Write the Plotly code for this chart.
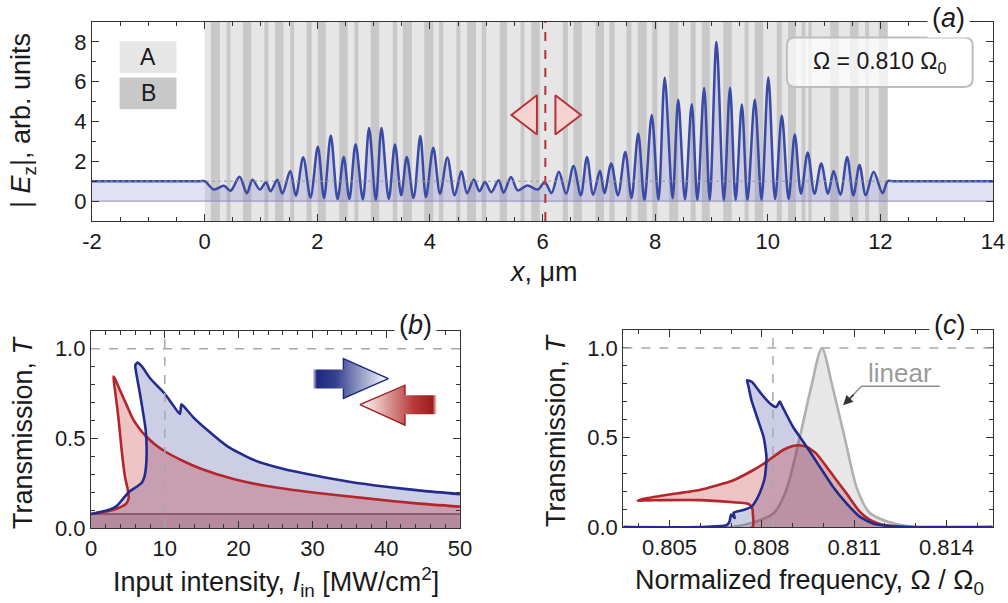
import plotly.graph_objects as go

FONT = "Liberation Sans, Arial, sans-serif"
BLUE = "#232c8c"
RED = "#b3262c"

# ---------------- (a) field profile |E_z|(x): maxima / minima
field_x = [-2.0, -0.1, 0.0, 0.165, 0.34, 0.46, 0.62, 0.75, 0.85, 0.98, 1.09, 1.17, 1.29, 1.38,
           1.52, 1.62, 1.75, 1.88, 2.01, 2.12, 2.24, 2.36, 2.47, 2.57, 2.68, 2.81, 2.92, 3.04,
           3.14, 3.27, 3.38, 3.49, 3.59, 3.71, 3.83, 3.93, 4.06, 4.18, 4.31, 4.44, 4.56, 4.66,
           4.78, 4.88, 4.98, 5.09, 5.22, 5.31, 5.44, 5.56, 5.73, 5.92, 6.04, 6.16, 6.29, 6.42,
           6.55, 6.68, 6.79, 6.90, 7.02, 7.10, 7.22, 7.34, 7.47, 7.58, 7.70, 7.81, 7.94, 8.06,
           8.17, 8.31, 8.41, 8.53, 8.65, 8.75, 8.87, 8.97, 9.09, 9.22, 9.33, 9.43, 9.54, 9.64,
           9.77, 9.89, 10.01, 10.13, 10.25, 10.37, 10.48, 10.59, 10.71, 10.83, 10.95, 11.07,
           11.17, 11.29, 11.41, 11.52, 11.63, 11.74, 11.88, 12.04, 12.13, 12.25, 14.0]
field_y = [1.0, 1.0, 1.0, 0.58, 0.77, 0.52, 1.23, 0.40, 1.07, 0.58, 0.95, 0.49, 1.07, 0.38,
           1.51, 0.27, 2.20, 0.18, 2.73, 0.15, 3.30, 0.10, 2.22, 0.10, 2.86, 0.08, 3.67, 0.05,
           3.67, 0.10, 2.85, 0.29, 2.22, 0.15, 3.27, 0.20, 2.68, 0.37, 2.19, 0.29, 1.50, 0.40,
           1.08, 0.50, 0.96, 0.45, 1.05, 0.42, 1.21, 0.54, 0.79, 0.58, 0.96, 0.40, 1.47, 0.37,
           1.77, 0.29, 2.22, 0.32, 1.52, 0.40, 1.89, 0.29, 2.47, 0.15, 3.40, 0.05, 4.33, 0.05,
           6.20, 0.15, 5.09, 0.08, 4.87, 0.05, 5.68, 0.05, 8.00, 0.02, 5.70, 0.05, 4.85, 0.05,
           5.09, 0.05, 6.21, 0.10, 4.30, 0.10, 3.35, 0.37, 2.44, 0.37, 1.89, 0.37,
           1.51, 0.32, 2.22, 0.29, 1.82, 0.29, 1.47, 0.40, 1.0, 1.0, 1.0]

# layer structure: A fills 0..struct_len, B layers between these edges
struct_len = 12.13
layer_B_lo = [0.11, 0.39, 0.68, 1.06, 1.25, 1.52, 1.81, 2.01, 2.39, 2.66, 2.95, 3.34, 3.52, 3.90,
              4.16, 4.47, 4.66, 4.92, 5.24, 5.61, 5.80, 6.36, 6.55, 6.94, 7.19, 7.49, 7.69, 7.95,
              8.25, 8.63, 8.83, 9.21, 9.59, 9.77, 10.16, 10.36, 10.60, 10.72, 11.11, 11.46, 11.73, 11.97]
layer_B_hi = [0.27, 0.46, 0.83, 1.13, 1.40, 1.59, 1.90, 2.15, 2.54, 2.73, 3.10, 3.42, 3.68, 4.06,
              4.24, 4.54, 4.82, 5.00, 5.37, 5.68, 5.95, 6.45, 6.70, 7.09, 7.28, 7.58, 7.85, 8.04,
              8.41, 8.72, 8.97, 9.36, 9.66, 9.92, 10.25, 10.50, 10.67, 10.78, 11.26, 11.61, 11.80, 12.13]
probe_x = 6.05
x_ticks_a = [-2, 0, 2, 4, 6, 8, 10, 12, 14]
x_labels_a = ["-2", "0", "2", "4", "6", "8", "10", "12", "14"]

# ---------------- (b) transmission vs input intensity
fwd_I = [0, 2.12, 3.48, 4.38, 5.29, 6.19, 6.87, 7.23, 7.45, 7.54, 7.41, 7.0, 6.55, 6.1, 6.0, 6.28,
         6.87, 8.0, 9.97, 11.2, 12.05, 12.25, 12.7, 13.8, 15.8, 18.5, 22.0, 26.0, 30.0, 35.0,
         40.0, 45.0, 50.0]
fwd_T = [0.078, 0.097, 0.123, 0.165, 0.206, 0.23, 0.252, 0.285, 0.34, 0.434, 0.545, 0.657, 0.768,
         0.87, 0.907, 0.922, 0.902, 0.835, 0.75, 0.68, 0.635, 0.69, 0.672, 0.62, 0.545, 0.455,
         0.38, 0.33, 0.295, 0.258, 0.23, 0.207, 0.189]
bwd_I = [0, 2.57, 3.93, 4.74, 5.1, 4.95, 4.6, 4.15, 3.70, 3.25, 3.03, 3.2, 3.93, 4.83, 5.65, 6.55,
         7.42, 8.77, 10.1, 12.4, 14.8, 19.3, 23.8, 30.1, 37.4, 44.1, 50.0]
bwd_T = [0.078, 0.096, 0.115, 0.134, 0.165, 0.22, 0.286, 0.434, 0.62, 0.768, 0.845, 0.835, 0.768,
         0.685, 0.61, 0.555, 0.513, 0.463, 0.425, 0.375, 0.332, 0.273, 0.234, 0.198, 0.165,
         0.137, 0.119]
lin_T_b = 0.078
I_mark = 10

# ---------------- (c) transmission vs normalized frequency
lin_W = [0.8035, 0.8070, 0.8078, 0.8084, 0.8088, 0.80923, 0.8096, 0.80995, 0.8103, 0.81069,
         0.8111, 0.8115, 0.8121, 0.8130, 0.8155]
lin_T = [0.0, 0.0, 0.03, 0.08, 0.21, 0.5, 0.78, 1.0, 0.78, 0.5, 0.21, 0.08, 0.03, 0.0, 0.0]
fwd_W = [0.8035, 0.8060, 0.80685, 0.80695, 0.80700, 0.80712, 0.80708, 0.80740, 0.80766, 0.80785,
         0.80800, 0.80810, 0.80815, 0.80806, 0.80785, 0.80766, 0.80756, 0.80752, 0.80768, 0.80800,
         0.80830, 0.80847, 0.80858, 0.80869, 0.80901, 0.80945, 0.80988, 0.81031, 0.81075, 0.81118,
         0.81161, 0.81248, 0.8155]
fwd_Tc = [0.0, 0.0, 0.01, 0.03, 0.07, 0.05, 0.08, 0.095, 0.113, 0.16, 0.22, 0.28, 0.39, 0.50, 0.61,
          0.71, 0.79, 0.82, 0.81, 0.74, 0.685, 0.67, 0.70, 0.665, 0.56, 0.45, 0.337, 0.225, 0.132,
          0.058, 0.02, 0.0, 0.0]
bwd_W = [0.8035, 0.8077, 0.80771, 0.80768, 0.80755, 0.80706, 0.80598, 0.80489, 0.80413, 0.80397,
         0.80413, 0.80489, 0.80598, 0.80706, 0.80771, 0.80815, 0.80869, 0.80901, 0.80917, 0.80945,
         0.80977, 0.8101, 0.81042, 0.81075, 0.81118, 0.81151, 0.81194, 0.81303, 0.8155]
bwd_Tc = [0.0, 0.0, 0.07, 0.11, 0.13, 0.138, 0.15, 0.15, 0.148, 0.147, 0.156, 0.179, 0.207, 0.26,
          0.317, 0.364, 0.43, 0.452, 0.457, 0.448, 0.41, 0.337, 0.263, 0.188, 0.086, 0.04, 0.011,
          0.0, 0.0]
W_mark = 0.80836

fig = go.Figure()

# ===== panel (a)
fig.add_trace(go.Scatter(x=field_x, y=field_y, mode="lines", fill="tozeroy",
                         fillcolor="rgba(70,80,190,0.17)",
                         line=dict(color="#3a4aa6", width=2.5, shape="spline", smoothing=0.9),
                         xaxis="x", yaxis="y"))
fig.add_trace(go.Scatter(x=[-2, 14], y=[0, 0], mode="lines", line=dict(color="#8a8ac4", width=1),
                         xaxis="x", yaxis="y"))
fig.add_trace(go.Scatter(x=[-2, 14], y=[1, 1], mode="lines",
                         line=dict(color="#9a9a9a", width=1, dash="dot"), xaxis="x", yaxis="y"))
# direction triangles
fig.add_trace(go.Scatter(x=[5.75, 6.38], y=[4.33, 4.33], mode="markers",
                         marker=dict(symbol=["triangle-left", "triangle-right"], size=34,
                                     color="#f6d3d0", line=dict(color="#b5343a", width=2)),
                         xaxis="x", yaxis="y"))

# ===== panel (b)
fig.add_trace(go.Scatter(x=[0, 50], y=[lin_T_b, lin_T_b], mode="lines", fill="tozeroy",
                         fillcolor="rgba(110,100,110,0.25)", line=dict(color="#6e6470", width=1.5),
                         xaxis="x2", yaxis="y2"))
fig.add_trace(go.Scatter(x=fwd_I, y=fwd_T, mode="lines", fill="tozeroy",
                         fillcolor="rgba(40,50,150,0.24)", line=dict(width=0),
                         xaxis="x2", yaxis="y2"))
fig.add_trace(go.Scatter(x=bwd_I, y=bwd_T, mode="lines", fill="tozeroy",
                         fillcolor="rgba(190,40,40,0.28)", line=dict(width=0),
                         xaxis="x2", yaxis="y2"))
fig.add_trace(go.Scatter(x=bwd_I, y=bwd_T, mode="lines",
                         line=dict(color=RED, width=2.6, shape="spline", smoothing=0.6),
                         xaxis="x2", yaxis="y2"))
fig.add_trace(go.Scatter(x=fwd_I, y=fwd_T, mode="lines",
                         line=dict(color=BLUE, width=2.6, shape="spline", smoothing=0.6),
                         xaxis="x2", yaxis="y2"))

# block arrows (forward / backward incidence)
arrow_fwd_x = [30.1, 34.2, 34.2, 40.3, 34.2, 34.2, 30.1]
arrow_fwd_y = [0.883, 0.883, 0.944, 0.833, 0.722, 0.777, 0.777]
arrow_bwd_x = [46.8, 42.55, 42.55, 36.45, 42.55, 42.55, 46.8]
arrow_bwd_y = [0.740, 0.740, 0.796, 0.688, 0.573, 0.634, 0.634]
fig.add_trace(go.Scatter(x=arrow_fwd_x, y=arrow_fwd_y, mode="lines", fill="toself",
                         line=dict(width=0),
                         fillgradient=dict(type="horizontal", colorscale=[
                             [0, "rgba(30,40,130,0.2)"], [0.05, "#1e2882"], [0.3, "#35418f"],
                             [1, "#ffffff"]]),
                         xaxis="x2", yaxis="y2"))
fig.add_trace(go.Scatter(x=arrow_fwd_x[1:6], y=arrow_fwd_y[1:6], mode="lines",
                         line=dict(color="#1e2882", width=1.4), xaxis="x2", yaxis="y2"))
fig.add_trace(go.Scatter(x=arrow_bwd_x, y=arrow_bwd_y, mode="lines", fill="toself",
                         line=dict(width=0),
                         fillgradient=dict(type="horizontal", colorscale=[
                             [0, "#ffffff"], [0.7, "#b83a3a"], [0.95, "#a01c1c"],
                             [1, "rgba(160,28,28,0.2)"]]),
                         xaxis="x2", yaxis="y2"))
fig.add_trace(go.Scatter(x=arrow_bwd_x[1:6], y=arrow_bwd_y[1:6], mode="lines",
                         line=dict(color="#a01c1c", width=1.4), xaxis="x2", yaxis="y2"))

# ===== panel (c)
fig.add_trace(go.Scatter(x=lin_W, y=lin_T, mode="lines", fill="tozeroy",
                         fillcolor="rgba(185,185,185,0.35)",
                         line=dict(color="#b0b0b0", width=2.6, shape="spline", smoothing=0.8),
                         xaxis="x3", yaxis="y3"))
fig.add_trace(go.Scatter(x=fwd_W, y=fwd_Tc, mode="lines", fill="tozeroy",
                         fillcolor="rgba(40,50,150,0.24)", line=dict(width=0),
                         xaxis="x3", yaxis="y3"))
fig.add_trace(go.Scatter(x=bwd_W, y=bwd_Tc, mode="lines", fill="tozeroy",
                         fillcolor="rgba(190,40,40,0.28)", line=dict(width=0),
                         xaxis="x3", yaxis="y3"))
fig.add_trace(go.Scatter(x=bwd_W, y=bwd_Tc, mode="lines",
                         line=dict(color=RED, width=2.6, shape="spline", smoothing=0.5),
                         xaxis="x3", yaxis="y3"))
fig.add_trace(go.Scatter(x=fwd_W, y=fwd_Tc, mode="lines",
                         line=dict(color=BLUE, width=2.6, shape="spline", smoothing=0.5),
                         xaxis="x3", yaxis="y3"))
# "linear" leader line
fig.add_trace(go.Scatter(x=[0.81378, 0.81124, 0.81075], y=[0.786, 0.786, 0.70], mode="lines",
                         line=dict(color="#8c8c8c", width=1.5), xaxis="x3", yaxis="y3"))

# ===== shapes
shapes = []
shapes.append(dict(type="rect", xref="x", yref="y", x0=0, x1=struct_len, y0=-1, y1=9,
                   fillcolor="#e6e6e6", line=dict(width=0), layer="below"))
for lo, hi in zip(layer_B_lo, layer_B_hi):
    shapes.append(dict(type="rect", xref="x", yref="y", x0=lo, x1=hi, y0=-1, y1=9,
                       fillcolor="#c8c8c8", line=dict(width=0), layer="below"))
# legend swatches A / B
shapes.append(dict(type="rect", xref="x", yref="y", x0=-1.51, x1=-0.5, y0=6.43, y1=8.03,
                   fillcolor="#e6e6e6", line=dict(width=0), layer="below"))
shapes.append(dict(type="rect", xref="x", yref="y", x0=-1.51, x1=-0.5, y0=4.62, y1=6.21,
                   fillcolor="#c8c8c8", line=dict(width=0), layer="below"))
# probe position
shapes.append(dict(type="line", xref="x", yref="y domain", x0=probe_x, x1=probe_x, y0=0, y1=1,
                   line=dict(color="#b5343a", width=2, dash="dash")))
# rounded box for the frequency label
bx0, bx1, by0, by1, rx, ry = 10.34, 13.64, 5.74, 8.22, 0.15, 0.42
box_path = (f"M{bx0+rx},{by0} L{bx1-rx},{by0} Q{bx1},{by0} {bx1},{by0+ry} "
            f"L{bx1},{by1-ry} Q{bx1},{by1} {bx1-rx},{by1} L{bx0+rx},{by1} "
            f"Q{bx0},{by1} {bx0},{by1-ry} L{bx0},{by0+ry} Q{bx0},{by0} {bx0+rx},{by0} Z")
shapes.append(dict(type="path", xref="x", yref="y", path=box_path,
                   fillcolor="rgba(255,255,255,0.72)", line=dict(color="#bdbdbd", width=2)))
# dashed guides (b), (c)
for xr, yr, xv in [("x2", "y2", I_mark), ("x3", "y3", W_mark)]:
    shapes.append(dict(type="line", xref=xr, yref=yr + " domain", x0=xv, x1=xv, y0=0, y1=1,
                       line=dict(color="#a8a8a8", width=1.5, dash="dash")))
    shapes.append(dict(type="line", xref=xr + " domain", yref=yr, x0=0, x1=1, y0=1, y1=1,
                       line=dict(color="#a8a8a8", width=1.5, dash="dash")))

# ===== annotations
ann = []
def paper_text(text, x, y, angle=0, size=27, color="#1a1a1a", bg=None):
    d = dict(text=text, x=x, y=y, xref="paper", yref="paper", showarrow=False,
             xanchor="center", yanchor="middle", textangle=angle,
             font=dict(family=FONT, size=size, color=color))
    if bg:
        d.update(bgcolor=bg, borderpad=4)
    ann.append(d)

paper_text("| <i>E</i><sub>z</sub>|, arb. units", 23 / 1008, 1 - 121 / 603, angle=-90)
paper_text("<i>x</i>, μm", 543 / 1008, 1 - 272 / 603)
paper_text("Transmission, <i>T</i>", 23 / 1008, 1 - 432 / 603, angle=-90)
paper_text("Input intensity, <i>I</i><sub>in</sub> [MW/cm<sup>2</sup>]", 276 / 1008, 1 - 582 / 603)
paper_text("Transmission, <i>T</i>", 556 / 1008, 1 - 430 / 603, angle=-90)
paper_text("Normalized frequency, Ω / Ω<sub>0</sub>", 809 / 1008, 1 - 582 / 603)
paper_text("(<i>a</i>)", 948 / 1008, 1 - 18 / 603, size=27, bg="white")
paper_text("(<i>b</i>)", 415 / 1008, 1 - 325 / 603, size=27, bg="white")
paper_text("(<i>c</i>)", 950 / 1008, 1 - 325 / 603, size=27, bg="white")

for txt, yv in [("A", 7.23), ("B", 5.41)]:
    ann.append(dict(text=txt, x=-1.0, y=yv, xref="x", yref="y", showarrow=False,
                    font=dict(family=FONT, size=23, color="#1a1a1a")))
ann.append(dict(text="Ω = 0.810 Ω<sub>0</sub>", x=11.99, y=6.98, xref="x", yref="y",
                showarrow=False, font=dict(family=FONT, size=23, color="#1a1a1a")))
ann.append(dict(text="linear", x=0.8125, y=0.86, xref="x3", yref="y3", showarrow=False,
                font=dict(family=FONT, size=26, color="#9a9a9a")))
ann.append(dict(text="", x=0.81064, y=0.68, xref="x3", yref="y3", showarrow=True,
                ax=12, ay=-12, arrowhead=2, arrowsize=1.3, arrowwidth=1.5, arrowcolor="#333"))

axis_common = dict(showline=True, linecolor="#333", linewidth=1.3, mirror="allticks",
                   ticks="inside", ticklen=7, tickwidth=1.2, tickcolor="#333",
                   showgrid=False, zeroline=False, automargin=False,
                   tickfont=dict(family=FONT, size=22, color="#1a1a1a"))

def axis(**kw):
    d = dict(axis_common)
    d.update(kw)
    return d

def minor(dtick, tick0=0):
    return dict(ticks="inside", ticklen=4, tickwidth=1, tickcolor="#333", dtick=dtick,
                tick0=tick0, showgrid=False)

fig.update_layout(
    width=1008, height=603, margin=dict(l=0, r=0, t=0, b=0),
    paper_bgcolor="white", plot_bgcolor="white", showlegend=False,
    font=dict(family=FONT),
    xaxis=axis(domain=[0.0913, 0.9851], range=[-2, 14], tickvals=x_ticks_a,
               ticktext=x_labels_a, minor=minor(0.5), anchor="y"),
    yaxis=axis(domain=[0.6335, 0.9635], range=[-1, 9], tickvals=[0, 2, 4, 6, 8],
               minor=minor(1), anchor="x"),
    xaxis2=axis(domain=[0.0903, 0.4563], range=[0, 50], dtick=10, minor=minor(2), anchor="y2"),
    yaxis2=axis(domain=[0.1244, 0.4516], range=[0, 1.1], tickvals=[0, 0.5, 1.0],
                tickformat=".1f", minor=minor(0.1), anchor="x2"),
    xaxis3=axis(domain=[0.6184, 0.9848], range=[0.8035, 0.8155],
                tickvals=[0.805, 0.808, 0.811, 0.814], tickformat=".3f",
                minor=minor(0.001, 0.805), anchor="y3"),
    yaxis3=axis(domain=[0.126, 0.4527], range=[0, 1.1], tickvals=[0, 0.5, 1.0],
                tickformat=".1f", minor=minor(0.1), anchor="x3"),
    shapes=shapes, annotations=ann,
)

# page body margin off so the figure sits at the window's top-left corner
fig.write_html("out.html", config={"displayModeBar": False},
               post_script="document.body.style.margin='0';")
